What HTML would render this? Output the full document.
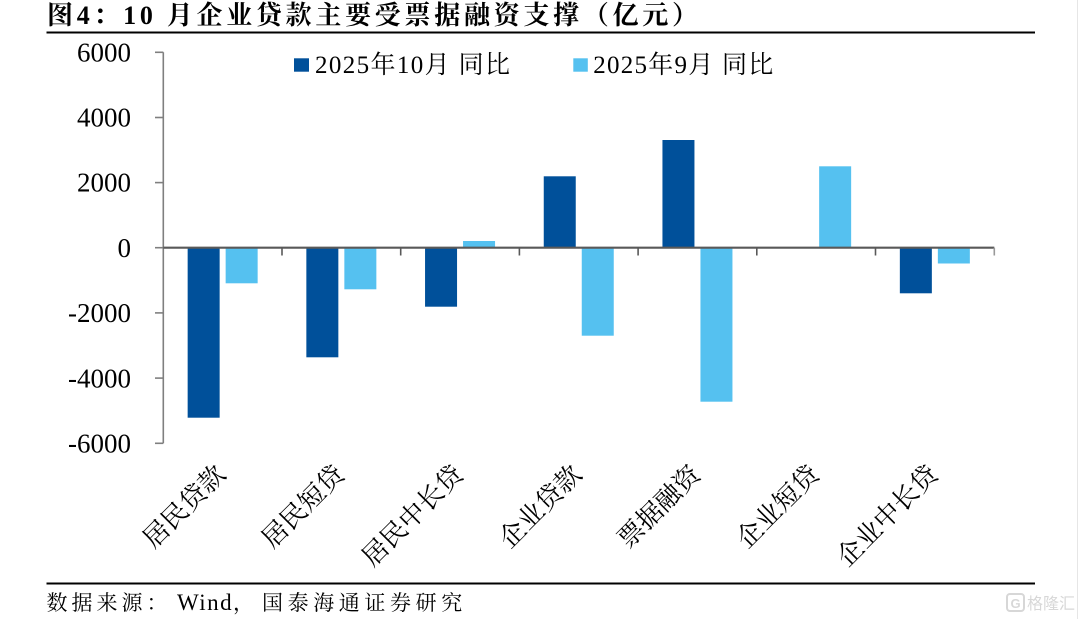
<!DOCTYPE html>
<html>
<head>
<meta charset="utf-8">
<style>
  html, body { margin: 0; padding: 0; background: #ffffff; }
  svg { display: block; }
  .serif { font-family: "Liberation Serif", "Noto Serif CJK SC", serif; }
</style>
</head>
<body>
<svg width="1080" height="619" viewBox="0 0 1080 619" xmlns="http://www.w3.org/2000/svg">
  <rect x="0" y="0" width="1080" height="619" fill="#ffffff"/>

  <!-- Title -->
  <text x="47" y="24" class="serif" font-size="26" font-weight="bold" fill="#000" textLength="651" lengthAdjust="spacing">图4：10 月企业贷款主要受票据融资支撑（亿元）</text>
  <line x1="46.5" y1="32.5" x2="1035" y2="32.5" stroke="#000" stroke-width="2"/>

  <!-- Legend -->
  <rect x="294" y="58.3" width="15" height="13.4" fill="#00509a"/>
  <text x="315" y="73" class="serif" font-size="25" fill="#000" textLength="195" lengthAdjust="spacing">2025年10月 同比</text>
  <rect x="573.3" y="58.3" width="14.5" height="13.4" fill="#55c1f0"/>
  <text x="593.3" y="73" class="serif" font-size="25" fill="#000" textLength="180" lengthAdjust="spacing">2025年9月 同比</text>

  <!-- Y axis labels -->
  <g class="serif" font-size="27" fill="#000" text-anchor="end">
    <text x="131" y="61.5">6000</text>
    <text x="131" y="126.5">4000</text>
    <text x="131" y="191.7">2000</text>
    <text x="131" y="256.9">0</text>
    <text x="131" y="322.1">-2000</text>
    <text x="131" y="387.3">-4000</text>
    <text x="131" y="452.5">-6000</text>
  </g>

  <!-- Bars -->
  <g fill="#00509a">
    <rect x="187.65" y="247.7" width="32" height="170"/>
    <rect x="306.35" y="247.7" width="32" height="109.6"/>
    <rect x="425.05" y="247.7" width="32" height="59"/>
    <rect x="543.75" y="176.3" width="32" height="71.4"/>
    <rect x="662.45" y="140" width="32" height="107.7"/>
    <rect x="899.85" y="247.7" width="32" height="45.6"/>
  </g>
  <g fill="#55c1f0">
    <rect x="225.65" y="247.7" width="32" height="35.6"/>
    <rect x="344.35" y="247.7" width="32" height="41.6"/>
    <rect x="463.05" y="241" width="32" height="6.7"/>
    <rect x="581.75" y="247.7" width="32" height="88"/>
    <rect x="700.45" y="247.7" width="32" height="154"/>
    <rect x="819.15" y="166.3" width="32" height="81.4"/>
    <rect x="937.85" y="247.7" width="32" height="15.8"/>
  </g>

  <!-- Y axis -->
  <line x1="163.3" y1="52.3" x2="163.3" y2="443.3" stroke="#7f7f7f" stroke-width="1.6"/>
  <g stroke="#7f7f7f" stroke-width="1.6">
    <line x1="155" y1="52.3" x2="163.3" y2="52.3"/>
    <line x1="155" y1="117.5" x2="163.3" y2="117.5"/>
    <line x1="155" y1="182.6" x2="163.3" y2="182.6"/>
    <line x1="155" y1="247.7" x2="163.3" y2="247.7"/>
    <line x1="155" y1="312.9" x2="163.3" y2="312.9"/>
    <line x1="155" y1="378.1" x2="163.3" y2="378.1"/>
    <line x1="155" y1="443.3" x2="163.3" y2="443.3"/>
  </g>

  <!-- X axis -->
  <line x1="163.3" y1="247.7" x2="994.3" y2="247.7" stroke="#595959" stroke-width="2.2"/>
  <g stroke="#595959" stroke-width="1.6">
    <line x1="282" y1="247.7" x2="282" y2="255.5"/>
    <line x1="400.7" y1="247.7" x2="400.7" y2="255.5"/>
    <line x1="519.4" y1="247.7" x2="519.4" y2="255.5"/>
    <line x1="638.1" y1="247.7" x2="638.1" y2="255.5"/>
    <line x1="756.8" y1="247.7" x2="756.8" y2="255.5"/>
    <line x1="875.5" y1="247.7" x2="875.5" y2="255.5"/>
    <line x1="994.3" y1="247.7" x2="994.3" y2="255.5" stroke="#999"/>
  </g>

  <!-- X axis labels -->
  <g class="serif" font-size="26" fill="#000" text-anchor="end">
    <text transform="translate(227.2,476) rotate(-45)">居民贷款</text>
    <text transform="translate(345.9,476) rotate(-45)">居民短贷</text>
    <text transform="translate(464.6,476) rotate(-45)">居民中长贷</text>
    <text transform="translate(583.3,476) rotate(-45)">企业贷款</text>
    <text transform="translate(702,476) rotate(-45)">票据融资</text>
    <text transform="translate(820.7,476) rotate(-45)">企业短贷</text>
    <text transform="translate(939.4,476) rotate(-45)">企业中长贷</text>
  </g>

  <!-- Bottom rule & source -->
  <line x1="46.5" y1="583.5" x2="1035" y2="583.5" stroke="#000" stroke-width="2"/>
  <g class="serif" fill="#000">
    <text x="46.5" y="610" font-size="21" letter-spacing="4">数据来源：</text>
    <text x="177" y="610" font-size="23" letter-spacing="1.5">Wind</text>
    <text x="233" y="610" font-size="21">，</text>
    <text x="262" y="610" font-size="21" letter-spacing="4.6">国泰海通证券研究</text>
  </g>

  <!-- Watermark -->
  <g opacity="0.55">
    <rect x="1007" y="594" width="17" height="17" rx="3" fill="none" stroke="#b8b8b8" stroke-width="2"/>
    <text x="1015.5" y="608" font-family="Liberation Sans, sans-serif" font-size="13" font-weight="bold" fill="#b8b8b8" text-anchor="middle">G</text>
    <text x="1027" y="609" font-family="Liberation Sans, 'Noto Sans CJK SC', sans-serif" font-size="16" fill="#b8b8b8">格隆汇</text>
  </g>

  <line x1="1077.5" y1="0" x2="1077.5" y2="619" stroke="#e6e6e6" stroke-width="1"/>
</svg>
</body>
</html>
